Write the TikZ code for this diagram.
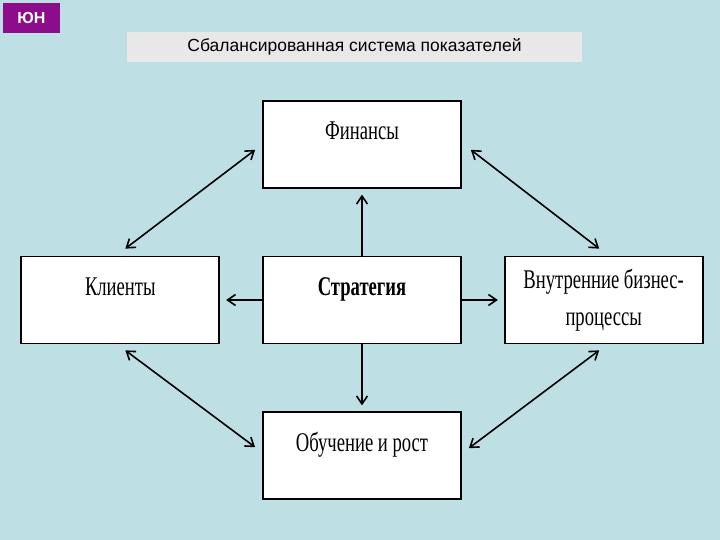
\documentclass[tikz,border=0pt]{standalone}
\usepackage{fontspec}
\setmainfont{Liberation Serif}
\newfontfamily\boxfont[FakeStretch=0.69]{Liberation Serif}
\newfontfamily\titlefont{Liberation Sans}
\usepackage{tikz}
\usetikzlibrary{arrows.meta, positioning, calc}
\definecolor{cBack}{RGB}{190,224,228}
\definecolor{cPurple}{RGB}{140,12,140}
\definecolor{cTitle}{RGB}{232,232,232}
\tikzset{
	area/.style     ={rectangle, draw=black, line width=1.7pt, fill=white, minimum width=198pt, minimum height=87pt, align=center, inner sep=0pt, font=\boxfont\fontsize{27}{37}\selectfont},
	oneline/.style  ={text height=12pt, text depth=21pt},
	link/.style     ={{Straight Barb[length=8pt,width=11pt]}-{Straight Barb[length=8pt,width=11pt]}, line width=1.6pt},
	push/.style     ={-{Straight Barb[length=8pt,width=11pt]}, line width=1.6pt, shorten >=6pt},
}
\begin{document}
\begin{tikzpicture}[x=1pt, y=-1pt, node distance=67pt and 42pt]
	\fill[cBack] (0,0) rectangle (720,540);
	\useasboundingbox (0,0) rectangle (720,540);
	% header
	\node[rectangle, fill=cPurple, minimum width=57pt, minimum height=30pt, text=white, font=\titlefont\bfseries\fontsize{16}{18}\selectfont] (logo) at (31.5,18) {ЮН};
	\node[rectangle, fill=cTitle, minimum width=455pt, minimum height=30pt, font=\titlefont\fontsize{17.5}{20}\selectfont] (title) at (354.5,47) {Сбалансированная система показателей};
	% scorecard
	\node[area, oneline, font=\boxfont\bfseries\fontsize{27}{37}\selectfont] (strat) at (362,300) {Стратегия};
	\node[area, oneline, above=of strat] (fin) {Финансы};
	\node[area, oneline, below=of strat] (edu) {Обучение и рост};
	\node[area, oneline, left=of strat] (cli) {Клиенты};
	\node[area, right=of strat] (proc) {Внутренние бизнес-\\процессы};
	\draw[push] (strat) -- (fin);
	\draw[push] (strat) -- (cli);
	\draw[push] (strat) -- (proc);
	\draw[push] (strat) -- (edu);
	\draw[link] ($(fin.west)+(-7,5.5)$) -- ($(cli.north)+(5,-7)$);
	\draw[link] ($(fin.east)+(9,5.5)$) -- ($(proc.north)+(-4.5,-7)$);
	\draw[link] ($(cli.south)+(5,6)$) -- ($(edu.west)+(-7,-8.5)$);
	\draw[link] ($(proc.south)+(-4.5,6)$) -- ($(edu.east)+(7,-7.5)$);
\end{tikzpicture}
\end{document}
